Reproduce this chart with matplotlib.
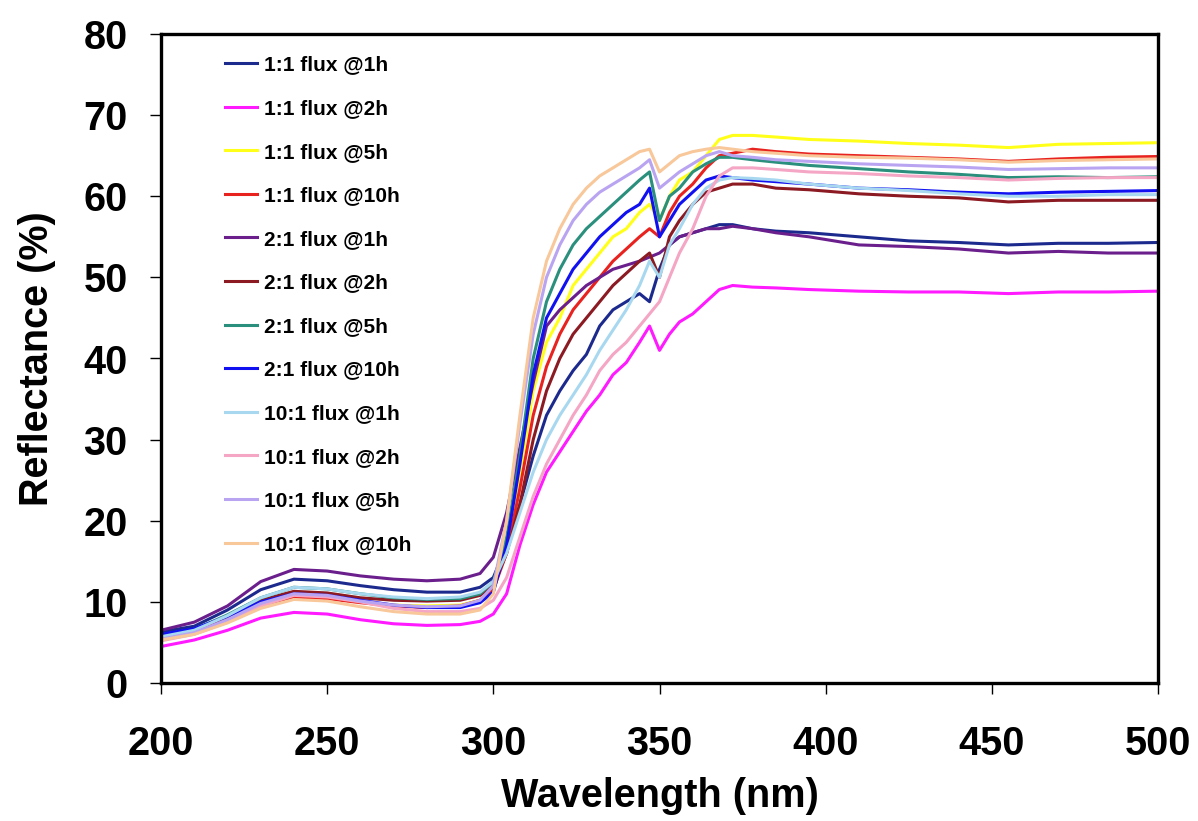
import matplotlib
matplotlib.use("Agg")
import matplotlib.pyplot as plt

plt.rcParams['font.family'] = ['Liberation Sans', 'DejaVu Sans']
plt.rcParams['font.weight'] = 'bold'

# wavelength grid (nm)
wl = [200, 210, 220, 230, 240, 250, 260, 270, 280, 290,
      296, 300, 304, 308, 312, 316, 320, 324, 328, 332,
      336, 340, 344, 347, 350, 353, 356, 360, 364, 368,
      372, 378, 385, 395, 410, 425, 440, 455, 470, 485, 500]

labels = ['1:1 flux @1h', '1:1 flux @2h', '1:1 flux @5h', '1:1 flux @10h',
          '2:1 flux @1h', '2:1 flux @2h', '2:1 flux @5h', '2:1 flux @10h',
          '10:1 flux @1h', '10:1 flux @2h', '10:1 flux @5h', '10:1 flux @10h']

colors = ['#1c2a8e', '#ff1aff', '#ffff1a', '#e8231f',
          '#6a1f8c', '#8b1a22', '#2a8f7c', '#1010f0',
          '#a8d8f0', '#f4a6c4', '#b9a4f2', '#f8c79a']

# reflectance (%)
r11_1h = [6.3, 7.0, 9.0, 11.5, 12.8, 12.6, 12.0, 11.5, 11.2, 11.2,
          11.8, 13.0, 17.0, 22.0, 28.0, 33.0, 36.0, 38.5, 40.5, 44.0,
          46.0, 47.0, 48.0, 47.0, 51.0, 54.0, 55.0, 55.5, 56.0, 56.5,
          56.5, 56.0, 55.7, 55.5, 55.0, 54.5, 54.3, 54.0, 54.2, 54.2, 54.3]
r11_2h = [4.5, 5.3, 6.5, 8.0, 8.7, 8.5, 7.8, 7.3, 7.1, 7.2,
          7.6, 8.5, 11.0, 17.0, 22.0, 26.0, 28.5, 31.0, 33.5, 35.5,
          38.0, 39.5, 42.0, 44.0, 41.0, 43.0, 44.5, 45.5, 47.0, 48.5,
          49.0, 48.8, 48.7, 48.5, 48.3, 48.2, 48.2, 48.0, 48.2, 48.2, 48.3]
r11_5h = [5.5, 6.2, 7.8, 9.8, 10.8, 10.6, 10.0, 9.6, 9.5, 9.6,
          10.2, 11.5, 17.0, 26.0, 36.0, 42.0, 45.0, 49.0, 51.0, 53.0,
          55.0, 56.0, 58.0, 59.0, 57.0, 60.0, 62.0, 63.0, 65.0, 67.0,
          67.5, 67.5, 67.3, 67.0, 66.8, 66.5, 66.3, 66.0, 66.4, 66.5, 66.6]
r11_10h = [5.6, 6.3, 7.8, 9.6, 10.6, 10.4, 9.9, 9.5, 9.3, 9.5,
           10.2, 11.5, 16.0, 24.0, 33.0, 39.0, 43.0, 46.0, 48.0, 50.0,
           52.0, 53.5, 55.0, 56.0, 55.0, 58.0, 60.0, 61.5, 63.5, 65.0,
           65.3, 65.8, 65.5, 65.2, 65.0, 64.8, 64.6, 64.3, 64.6, 64.8, 64.9]
r21_1h = [6.5, 7.5, 9.5, 12.5, 14.0, 13.8, 13.2, 12.8, 12.6, 12.8,
          13.5, 15.5, 21.0, 29.0, 37.0, 44.0, 46.0, 47.5, 49.0, 50.0,
          51.0, 51.5, 52.0, 52.5, 53.0, 54.0, 55.0, 55.5, 56.0, 56.0,
          56.3, 56.0, 55.5, 55.0, 54.0, 53.8, 53.5, 53.0, 53.2, 53.0, 53.0]
r21_2h = [5.8, 6.6, 8.2, 10.2, 11.3, 11.1, 10.5, 10.2, 10.1, 10.2,
          10.8, 12.0, 16.0, 22.0, 30.0, 36.0, 40.0, 43.0, 45.0, 47.0,
          49.0, 50.5, 52.0, 53.0, 50.0, 55.0, 57.0, 59.0, 60.5, 61.0,
          61.5, 61.5, 61.0, 60.8, 60.3, 60.0, 59.8, 59.3, 59.5, 59.5, 59.5]
r21_5h = [5.8, 6.6, 8.4, 10.5, 11.8, 11.6, 11.0, 10.5, 10.3, 10.4,
          11.0, 12.5, 18.0, 28.0, 40.0, 47.0, 51.0, 54.0, 56.0, 57.5,
          59.0, 60.5, 62.0, 63.0, 57.0, 60.0, 61.0, 63.0, 64.0, 64.8,
          64.8, 64.5, 64.2, 63.8, 63.4, 63.0, 62.7, 62.3, 62.4, 62.3, 62.4]
r21_10h = [6.0, 6.7, 8.2, 10.0, 11.0, 10.8, 10.2, 9.6, 9.3, 9.3,
           9.9, 11.2, 17.0, 27.0, 38.0, 45.0, 48.0, 51.0, 53.0, 55.0,
           56.5, 58.0, 59.0, 61.0, 55.0, 57.0, 59.0, 60.5, 62.0, 62.5,
           62.3, 62.0, 61.8, 61.5, 61.0, 60.8, 60.5, 60.3, 60.5, 60.6, 60.7]
r101_1h = [5.7, 6.5, 8.3, 10.5, 11.8, 11.6, 11.0, 10.6, 10.4, 10.6,
           11.2, 12.5, 16.0, 21.0, 26.0, 30.0, 33.0, 35.5, 38.0, 41.0,
           43.5, 46.0, 49.0, 52.0, 50.0, 54.0, 56.0, 59.0, 61.0, 62.0,
           62.3, 62.2, 62.0, 61.5, 61.0, 60.7, 60.3, 60.0, 60.0, 60.2, 60.2]
r101_2h = [5.2, 6.0, 7.5, 9.5, 10.8, 10.6, 10.0, 9.2, 8.8, 8.8,
           9.2, 10.2, 13.0, 18.0, 23.0, 27.0, 30.0, 33.0, 35.5, 38.5,
           40.5, 42.0, 44.0, 45.5, 47.0, 50.0, 53.0, 56.0, 60.0, 62.5,
           63.5, 63.5, 63.3, 63.0, 62.8, 62.5, 62.3, 62.0, 62.2, 62.3, 62.3]
r101_5h = [5.4, 6.2, 7.8, 9.8, 11.0, 10.8, 10.1, 9.6, 9.4, 9.5,
           10.2, 12.0, 20.0, 32.0, 43.0, 50.0, 54.0, 57.0, 59.0, 60.5,
           61.5, 62.5, 63.5, 64.5, 61.0, 62.0, 63.0, 64.0, 65.0, 65.5,
           65.0, 64.8, 64.5, 64.3, 64.0, 63.8, 63.6, 63.3, 63.4, 63.5, 63.5]
r101_10h = [5.3, 6.0, 7.4, 9.2, 10.3, 10.1, 9.4, 8.8, 8.5, 8.5,
            9.0, 11.0, 20.0, 33.0, 45.0, 52.0, 56.0, 59.0, 61.0, 62.5,
            63.5, 64.5, 65.5, 65.8, 63.0, 64.0, 65.0, 65.5, 65.8, 66.0,
            65.8, 65.5, 65.3, 65.0, 64.8, 64.7, 64.5, 64.2, 64.4, 64.5, 64.6]

series = [r11_1h, r11_2h, r11_5h, r11_10h, r21_1h, r21_2h, r21_5h, r21_10h,
          r101_1h, r101_2h, r101_5h, r101_10h]

fig = plt.figure(figsize=(11.98, 8.21), dpi=100)
ax = fig.add_axes([161/1198, 1 - 683/821, 997/1198, 649/821])

for ys, c, lab in zip(series, colors, labels):
    ax.plot(wl, ys, color=c, lw=2.2, label=lab)

ax.set_xlim(200, 500)
ax.set_ylim(0, 80)
ax.set_xticks(range(200, 501, 50))
ax.set_yticks(range(0, 81, 10))
ax.tick_params(direction='out', length=8, width=1.0, labelsize=28.5, pad=16)
ax.tick_params(axis='x', pad=22.5)
for s in ax.spines.values():
    s.set_linewidth(2.4)

ax.set_xlabel('Wavelength (nm)', fontsize=28.5, fontweight='bold', labelpad=10)
ax.set_ylabel('Reflectance (%)', fontsize=28.5, fontweight='bold', labelpad=20)

ax.legend(loc='upper left', bbox_to_anchor=(0.064, 0.967), frameon=False,
          labelspacing=1.18, handlelength=1.55, handletextpad=0.33,
          borderpad=0, borderaxespad=0, prop={'weight': 'bold', 'size': 15})

fig.savefig('out.png', dpi=100)
